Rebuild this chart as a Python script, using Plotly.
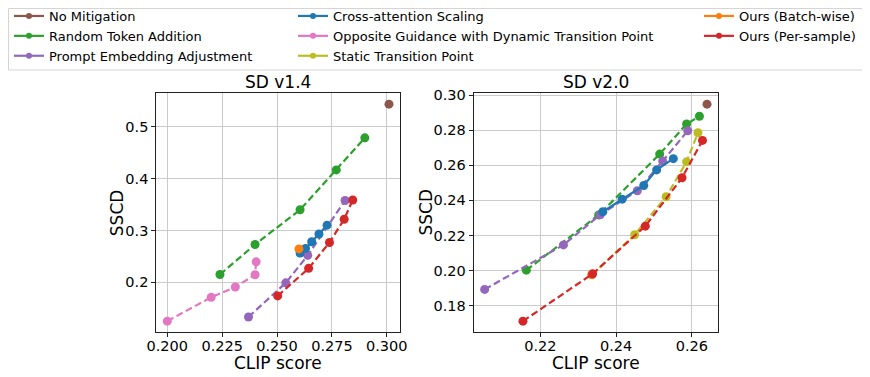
import plotly.graph_objects as go

# colours (matplotlib tab10)
C = {
    'No Mitigation': '#8c564b',
    'Random Token Addition': '#2ca02c',
    'Prompt Embedding Adjustment': '#9467bd',
    'Cross-attention Scaling': '#1f77b4',
    'Opposite Guidance with Dynamic Transition Point': '#e377c2',
    'Static Transition Point': '#bcbd22',
    'Ours (Batch-wise)': '#ff7f0e',
    'Ours (Per-sample)': '#d62728',
}

# SD v1.4  (CLIP score, SSCD)
v14_none_x = [0.301]
v14_none_y = [0.544]
v14_rta_x = [0.224, 0.240, 0.2605, 0.277, 0.290]
v14_rta_y = [0.215, 0.273, 0.340, 0.417, 0.479]
v14_pea_x = [0.237, 0.254, 0.264, 0.281]
v14_pea_y = [0.133, 0.199, 0.252, 0.358]
v14_cas_x = [0.2605, 0.263, 0.2658, 0.2691, 0.2728]
v14_cas_y = [0.2565, 0.2655, 0.2782, 0.2933, 0.3104]
v14_og_x = [0.200, 0.220, 0.231, 0.240, 0.2405]
v14_og_y = [0.125, 0.171, 0.191, 0.2145, 0.2395]
v14_ob_x = [0.260]
v14_ob_y = [0.2645]
v14_ops_x = [0.2503, 0.2644, 0.2739, 0.2806, 0.2845]
v14_ops_y = [0.1737, 0.2269, 0.2769, 0.3218, 0.359]

# SD v2.0
v20_none_x = [0.264]
v20_none_y = [0.2949]
v20_rta_x = [0.2163, 0.2354, 0.2515, 0.2586, 0.262]
v20_rta_y = [0.2002, 0.2317, 0.2664, 0.2836, 0.288]
v20_pea_x = [0.2053, 0.2261, 0.2358, 0.2456, 0.2523, 0.2589]
v20_pea_y = [0.1892, 0.2146, 0.2318, 0.2455, 0.2624, 0.2797]
v20_cas_x = [0.2365, 0.2416, 0.2473, 0.2507, 0.2551]
v20_cas_y = [0.2335, 0.2407, 0.2485, 0.2574, 0.2638]
v20_stp_x = [0.2336, 0.2449, 0.2532, 0.2586, 0.2616]
v20_stp_y = [0.1975, 0.2204, 0.2421, 0.2620, 0.2786]
v20_ob_x = [0.2336]
v20_ob_y = [0.1977]
v20_ops_x = [0.2154, 0.2338, 0.2477, 0.2574, 0.2628]
v20_ops_y = [0.1711, 0.1981, 0.2253, 0.2529, 0.2742]

left = [
    ('No Mitigation', v14_none_x, v14_none_y),
    ('Random Token Addition', v14_rta_x, v14_rta_y),
    ('Prompt Embedding Adjustment', v14_pea_x, v14_pea_y),
    ('Cross-attention Scaling', v14_cas_x, v14_cas_y),
    ('Opposite Guidance with Dynamic Transition Point', v14_og_x, v14_og_y),
    ('Ours (Batch-wise)', v14_ob_x, v14_ob_y),
    ('Ours (Per-sample)', v14_ops_x, v14_ops_y),
]
right = [
    ('No Mitigation', v20_none_x, v20_none_y),
    ('Random Token Addition', v20_rta_x, v20_rta_y),
    ('Prompt Embedding Adjustment', v20_pea_x, v20_pea_y),
    ('Cross-attention Scaling', v20_cas_x, v20_cas_y),
    ('Static Transition Point', v20_stp_x, v20_stp_y),
    ('Ours (Batch-wise)', v20_ob_x, v20_ob_y),
    ('Ours (Per-sample)', v20_ops_x, v20_ops_y),
]

# which of the three legend columns each entry goes to
legend_of = {
    'No Mitigation': 'legend', 'Random Token Addition': 'legend',
    'Prompt Embedding Adjustment': 'legend',
    'Cross-attention Scaling': 'legend2',
    'Opposite Guidance with Dynamic Transition Point': 'legend2',
    'Static Transition Point': 'legend2',
    'Ours (Batch-wise)': 'legend3', 'Ours (Per-sample)': 'legend3',
}
legend_order = ['No Mitigation', 'Random Token Addition', 'Prompt Embedding Adjustment',
                'Cross-attention Scaling', 'Opposite Guidance with Dynamic Transition Point',
                'Static Transition Point', 'Ours (Batch-wise)', 'Ours (Per-sample)']

fig = go.Figure()

def add(name, x, y, xa, ya):
    dash = 'solid' if name == 'Cross-attention Scaling' else '7px,3.5px'
    fig.add_trace(go.Scatter(
        x=x, y=y, mode='lines+markers', name=name, legendgroup=name,
        showlegend=False, xaxis=xa, yaxis=ya,
        line=dict(color=C[name], width=2.2, dash=dash),
        marker=dict(color=C[name], size=9)))

for name, x, y in left:
    add(name, x, y, 'x', 'y')
for name, x, y in right:
    add(name, x, y, 'x2', 'y2')

# legend-only entries, in column order
for i, name in enumerate(legend_order):
    fig.add_trace(go.Scatter(
        x=[None], y=[None], mode='lines+markers', name=name, legendgroup=name,
        legend=legend_of[name], legendrank=i, xaxis='x', yaxis='y',
        line=dict(color=C[name], width=2.2),
        marker=dict(color=C[name], size=6)))

# the page body adds an 8px offset, so the figure is drawn 8px smaller
OFF = 8
W, H = 870 - OFF, 377 - OFF
def px(v): return (v - OFF) / W
def py(v): return (H - (v - OFF)) / H

axis_common = dict(showline=True, mirror=True, linecolor='#222', linewidth=1,
                   ticks='outside', ticklen=4, tickcolor='#222', automargin=False,
                   showgrid=True, gridcolor='#cbcbcb', gridwidth=1, zeroline=False,
                   tickfont=dict(size=14.5, color='black'))

fig.update_layout(
    width=W, height=H, margin=dict(l=0, r=0, t=0, b=0, autoexpand=False),
    paper_bgcolor='white', plot_bgcolor='white',
    font=dict(family='DejaVu Sans', color='black'),
    xaxis=dict(domain=[px(156.3), px(399.5)], range=[0.195, 0.3058], anchor='y',
               tickvals=[0.200, 0.225, 0.250, 0.275, 0.300], tickformat='.3f',
               ticklabelstandoff=-3, **axis_common),
    yaxis=dict(domain=[py(332), py(93.3)], range=[0.104, 0.565], anchor='x',
               tickvals=[0.2, 0.3, 0.4, 0.5], tickformat='.1f', **axis_common),
    xaxis2=dict(domain=[px(473.7), px(718)], range=[0.2024, 0.2669], anchor='y2',
                tickvals=[0.22, 0.24, 0.26], tickformat='.2f',
                ticklabelstandoff=-3, **axis_common),
    yaxis2=dict(domain=[py(332), py(93.3)], range=[0.1649, 0.3011], anchor='x2',
                tickvals=[0.18, 0.20, 0.22, 0.24, 0.26, 0.28, 0.30], tickformat='.2f',
                **axis_common),
)

leg = dict(orientation='v', yanchor='top', xanchor='left', y=py(1),
           bgcolor='rgba(0,0,0,0)', font=dict(size=13, color='black'),
           tracegroupgap=0, itemwidth=30)
fig.update_layout(
    legend=dict(x=px(9), **leg),
    legend2=dict(x=px(293), **leg),
    legend3=dict(x=px(699), **leg),
)

# legend frame
fig.add_shape(type='rect', xref='paper', yref='paper',
              x0=0.5 / W, x1=px(866), y0=py(70), y1=1 - 0.5 / H,
              line=dict(color='#d5d5d5', width=1), fillcolor='rgba(0,0,0,0)', layer='below')

# subplot titles and axis titles
for t, a, b in [('SD v1.4', 156.3, 399.5), ('SD v2.0', 473.7, 718)]:
    fig.add_annotation(text=t, xref='paper', yref='paper', x=px((a + b) / 2), y=py(82),
                       xanchor='center', yanchor='middle', showarrow=False,
                       font=dict(size=17, color='black'))
    fig.add_annotation(text='CLIP score', xref='paper', yref='paper', x=px((a + b) / 2),
                       y=py(363), xanchor='center', yanchor='middle', showarrow=False,
                       font=dict(size=17, color='black'))
for xc in [116.7, 425]:
    fig.add_annotation(text='SSCD', xref='paper', yref='paper', x=px(xc), y=py(212.5),
                       xanchor='center', yanchor='middle', textangle=-90, showarrow=False,
                       font=dict(size=17, color='black'))

fig.write_html('out.html')
